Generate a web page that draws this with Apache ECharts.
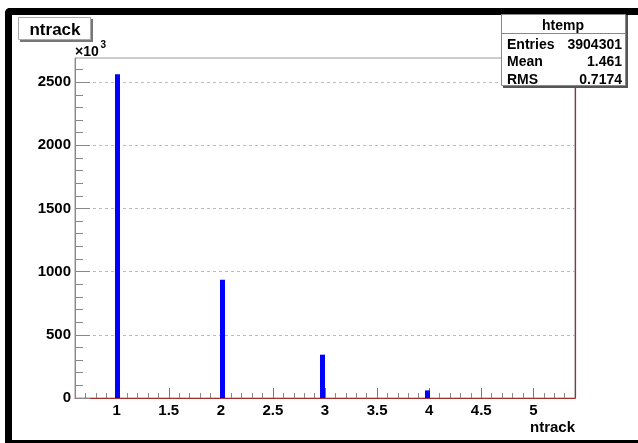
<!DOCTYPE html>
<html>
<head>
<meta charset="utf-8">
<script src="https://cdn.jsdelivr.net/npm/echarts@6/dist/echarts.min.js"></script>
<style>
  html, body { margin: 0; padding: 0; background: #fff; overflow: hidden; }
  #chart { width: 638px; height: 443px; }
</style>
</head>
<body>
<div id="chart"></div>
<script>
// Histogram of ntrack: counts per bin, in units of 10^3 entries
const binLow = [0.984, 1.992, 2.952, 3.96];
const BIN_WIDTH = 0.048;
const counts = [2563, 936, 343, 60];

// Axis ranges and tick labels
const X_MIN = 0.6, X_MAX = 5.4;
const Y_MAX = 2691;
const xLabels = [1, 1.5, 2, 2.5, 3, 3.5, 4, 4.5, 5];
const yLabels = [0, 500, 1000, 1500, 2000, 2500];

// Statistics box contents
const statsTitle = 'htemp';
const statsRows = [['Entries', '3904301'], ['Mean', '1.461'], ['RMS', '0.7174']];

const FONT = '"Liberation Sans", Arial, Helvetica, sans-serif';

// minor tick positions every 0.1 (x) and every 100 (y)
const xMinor = [];
for (let i = 7; i <= 53; i++) { if (i % 5 !== 0) xMinor.push(i / 10); }
const yMinor = [];
for (let v = 100; v < Y_MAX; v += 100) { if (v % 500 !== 0) yMinor.push(v); }

const bars = binLow.map((lo, i) => [lo, lo + BIN_WIDTH, counts[i]]);

const chart = echarts.init(document.getElementById('chart'), null, { renderer: 'canvas' });

const labelStyle = { fontFamily: FONT, fontWeight: 'bold', fontSize: 15, color: '#000', formatter: v => String(v) };

chart.setOption({
  animation: false,
  backgroundColor: '#fff',
  grid: { left: 75, top: 58, width: 500, height: 340, show: true, borderColor: '#999', borderWidth: 1, backgroundColor: 'transparent' },
  xAxis: [
    {
      type: 'value', min: X_MIN, max: X_MAX, position: 'bottom',
      axisLine: { show: true, onZero: false, lineStyle: { color: '#a0302c', width: 1.2 } },
      axisTick: { show: true, inside: true, length: 10, customValues: xLabels, lineStyle: { color: '#777' } },
      axisLabel: Object.assign({ customValues: xLabels, margin: 5 }, labelStyle),
      splitLine: { show: false }
    },
    {
      type: 'value', min: X_MIN, max: X_MAX, position: 'bottom', offset: 0,
      axisLine: { show: false },
      axisTick: { show: true, inside: true, length: 5, customValues: xMinor, lineStyle: { color: '#888' } },
      axisLabel: { show: false },
      splitLine: { show: false }
    }
  ],
  yAxis: [
    {
      type: 'value', min: 0, max: Y_MAX, interval: 500, position: 'left',
      axisLine: { show: true, onZero: false, lineStyle: { color: '#888' } },
      axisTick: { show: true, inside: true, length: 15, customValues: yLabels, lineStyle: { color: '#888' } },
      axisLabel: Object.assign({ customValues: yLabels, margin: 4 }, labelStyle),
      splitLine: { show: true, lineStyle: { color: '#bbb', type: [3, 3], width: 1 } }
    },
    {
      type: 'value', min: 0, max: Y_MAX, position: 'left', offset: 0,
      axisLine: { show: false },
      axisTick: { show: true, inside: true, length: 8, customValues: yMinor, lineStyle: { color: '#888' } },
      axisLabel: { show: false },
      splitLine: { show: false }
    },
    {
      type: 'value', min: 0, max: Y_MAX, position: 'right',
      axisLine: { show: true, lineStyle: { color: '#a0302c', width: 1.2 } },
      axisTick: { show: false }, axisLabel: { show: false }, splitLine: { show: false }
    }
  ],
  series: [{
    type: 'custom',
    xAxisIndex: 0, yAxisIndex: 0,
    data: bars,
    encode: { x: [0, 1], y: 2 },
    renderItem: function (params, api) {
      const p0 = api.coord([api.value(0), api.value(2)]);
      const p1 = api.coord([api.value(1), 0]);
      return {
        type: 'rect',
        shape: { x: p0[0], y: p0[1], width: p1[0] - p0[0], height: p1[1] - p0[1] },
        style: { fill: '#0000ff' }
      };
    },
    z: 10
  }],
  graphic: [
    // canvas frame: left, top and bottom edges
    { type: 'rect', shape: { x: 5, y: 8, width: 7, height: 440, r: [5, 0, 0, 0] }, style: { fill: '#000' }, z: 100 },
    { type: 'rect', shape: { x: 5, y: 8, width: 640, height: 7, r: [5, 0, 0, 0] }, style: { fill: '#000' }, z: 100 },
    { type: 'rect', shape: { x: 5, y: 440, width: 640, height: 7 }, style: { fill: '#000' }, z: 100 },
    // title box
    { type: 'rect', shape: { x: 20, y: 19, width: 73, height: 23 }, style: { fill: '#777' }, z: 100 },
    { type: 'rect', shape: { x: 18.5, y: 17.5, width: 72, height: 22 }, style: { fill: '#fff', stroke: '#aaa', lineWidth: 1 }, z: 101 },
    { type: 'text', x: 55, y: 30, style: { text: 'ntrack', font: 'bold 17px ' + FONT, fill: '#000', align: 'center', verticalAlign: 'middle' }, z: 102 },
    // y-axis exponent
    { type: 'text', x: 75, y: 52.5, style: { text: '×10', font: 'bold 14px ' + FONT, fill: '#000', align: 'left', verticalAlign: 'middle' }, z: 102 },
    { type: 'text', x: 100.5, y: 45.5, style: { text: '3', font: 'bold 10px ' + FONT, fill: '#000', align: 'left', verticalAlign: 'middle' }, z: 102 },
    // x-axis title
    { type: 'text', x: 575, y: 428, style: { text: 'ntrack', font: 'bold 15px ' + FONT, fill: '#000', align: 'right', verticalAlign: 'middle' }, z: 102 },
    // statistics box
    { type: 'rect', shape: { x: 503, y: 15, width: 125, height: 73 }, style: { fill: '#555' }, z: 100 },
    { type: 'rect', shape: { x: 501.5, y: 14.5, width: 124, height: 71 }, style: { fill: '#fff', stroke: '#888', lineWidth: 1 }, z: 101 },
    { type: 'line', shape: { x1: 501.5, y1: 33.5, x2: 625.5, y2: 33.5 }, style: { stroke: '#888', lineWidth: 1 }, z: 102 },
    { type: 'text', x: 563, y: 26, style: { text: statsTitle, font: 'bold 14px ' + FONT, fill: '#000', align: 'center', verticalAlign: 'middle' }, z: 102 }
  ].concat(statsRows.flatMap((row, i) => [
    { type: 'text', x: 507, y: 45 + i * 17.5, style: { text: row[0], font: 'bold 14px ' + FONT, fill: '#000', align: 'left', verticalAlign: 'middle' }, z: 102 },
    { type: 'text', x: 622, y: 45 + i * 17.5, style: { text: row[1], font: 'bold 14px ' + FONT, fill: '#000', align: 'right', verticalAlign: 'middle' }, z: 102 }
  ]))
});
</script>
</body>
</html>
